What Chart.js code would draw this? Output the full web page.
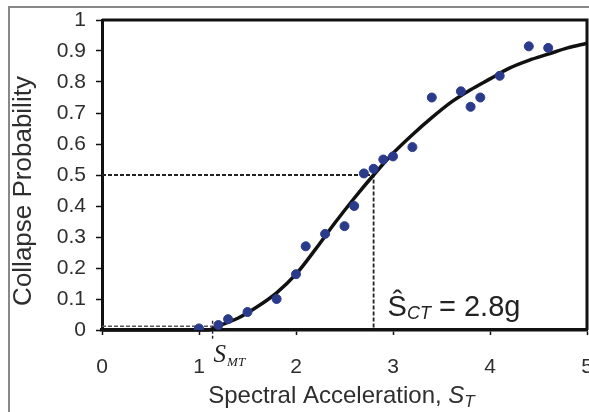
<!DOCTYPE html>
<html>
<head>
<meta charset="utf-8">
<script src="https://cdn.jsdelivr.net/npm/chart.js@4/dist/chart.umd.min.js"></script>
<style>
    html, body { margin: 0; padding: 0; background: #fff; overflow: hidden; width: 589px; height: 412px; }
    #wrap { position: relative; width: 610px; height: 412px; }
</style>
</head>
<body>
<div id="wrap"><canvas id="fragility_chart"></canvas></div>
<script>
// observed collapse data (spectral acceleration, fraction collapsed)
const recordSa = [1.0, 1.2, 1.3, 1.5, 1.8, 2.0, 2.1, 2.3, 2.5, 2.6, 2.7, 2.8, 2.9, 3.0, 3.2, 3.4, 3.7, 3.8, 3.9, 4.1, 4.4, 4.6]
const recordProb = [0.005, 0.016, 0.035, 0.058, 0.10, 0.18, 0.27, 0.31, 0.335, 0.40, 0.505, 0.52, 0.55, 0.56, 0.59, 0.75, 0.77, 0.72, 0.75, 0.82, 0.915, 0.91]

// fitted fragility curve
const curveSa = [0, 1.1, 1.2, 1.4, 1.6, 1.8, 2.0, 2.2, 2.4, 2.6, 2.8, 3.0, 3.2, 3.4, 3.6, 3.8, 4.0, 4.2, 4.4, 4.6, 4.8, 5.0]
const curveProb = [0, 0, 0.013, 0.038, 0.075, 0.12, 0.18, 0.26, 0.345, 0.425, 0.50, 0.57, 0.63, 0.685, 0.735, 0.775, 0.81, 0.845, 0.87, 0.89, 0.91, 0.925]

// reference values
const sctValue = 2.8
const smtValue = 1.14
const medianProb = 0.5
const smtProb = 0.012

const xTicks = [0, 1, 2, 3, 4, 5]
const yTicks = [0, 0.1, 0.2, 0.3, 0.4, 0.5, 0.6, 0.7, 0.8, 0.9, 1]

const sans = "'Liberation Sans', Arial, sans-serif"
const serif = "'Liberation Serif', 'Times New Roman', serif"

function pairs(xs, ys) {
    return xs.map((x, i) => ({ x: x, y: ys[i] }))
}

const overlay = {
    id: "overlay",
    beforeDatasetsDraw(chart) {
        const { ctx, chartArea: a } = chart
        ctx.save()
        ctx.strokeStyle = "#111"
        ctx.lineWidth = 3
        ctx.beginPath()
        ctx.moveTo(a.left, a.top)
        ctx.lineTo(a.right, a.top)
        ctx.lineTo(a.right, a.bottom)
        ctx.stroke()
        ctx.restore()
    },
    afterDraw(chart) {
        const { ctx, chartArea: a, scales } = chart
        const xs = scales.x
        ctx.save()
        // outer gray frame
        ctx.fillStyle = "#888"
        ctx.fillRect(8, 6, 600, 2)
        ctx.fillRect(8, 6, 2, 420)

        ctx.fillStyle = "#2e2e2e"
        // y title
        ctx.save()
        ctx.translate(24, 191)
        ctx.rotate(-Math.PI / 2)
        ctx.font = "26px " + sans
        ctx.textAlign = "center"
        ctx.textBaseline = "middle"
        ctx.fillText("Collapse Probability", 0, 0)
        ctx.restore()

        // x title
        ctx.textBaseline = "alphabetic"
        ctx.textAlign = "left"
        const main = "Spectral Acceleration, "
        ctx.font = "24px " + sans
        const wMain = ctx.measureText(main).width
        ctx.font = "italic 24px " + sans
        const wS = ctx.measureText("S").width
        ctx.font = "italic 17px " + sans
        const wT = ctx.measureText("T").width
        let tx = (a.left + a.right) / 2 - (wMain + wS + wT) / 2 - 3
        ctx.font = "24px " + sans
        ctx.fillText(main, tx, 403)
        tx += wMain
        ctx.font = "italic 24px " + sans
        ctx.fillText("S", tx, 403)
        tx += wS
        ctx.font = "italic 17px " + sans
        ctx.fillText("T", tx, 407)

        // S_CT annotation
        ctx.fillStyle = "#222"
        let ax = xs.getPixelForValue(sctValue) + 14
        ctx.font = "29px " + sans
        ctx.fillText("\u015C", ax, 316)
        ax += ctx.measureText("\u015C").width
        ctx.font = "italic 18px " + sans
        ctx.fillText("CT", ax, 319)
        ax += ctx.measureText("CT").width
        ctx.font = "29px " + sans
        ctx.fillText(" = " + sctValue + "g", ax, 316)

        // S_MT label
        let mx = xs.getPixelForValue(smtValue) + 1
        ctx.font = "italic 25px " + serif
        ctx.fillText("S", mx, 362)
        mx += ctx.measureText("S").width + 1
        ctx.font = "italic 13px " + serif
        ctx.fillText("MT", mx, 366)
        ctx.restore()
    },
}

function main() {
    new Chart(document.getElementById("fragility_chart"), {
        type: "scatter",
        data: {
            datasets: [
                {
                    label: "Collapse data",
                    data: pairs(recordSa, recordProb),
                    backgroundColor: "#2b3b8c",
                    borderColor: "#2b3b8c",
                    pointRadius: 4.5,
                    showLine: false,
                },
                {
                    label: "Fitted curve",
                    data: pairs(curveSa, curveProb),
                    showLine: true,
                    borderColor: "#111",
                    borderWidth: 3.5,
                    pointRadius: 0,
                    cubicInterpolationMode: "monotone",
                    clip: false,
                },
                {
                    label: "Median",
                    data: [{ x: 0, y: medianProb }, { x: sctValue, y: medianProb }, { x: sctValue, y: 0 }],
                    showLine: true,
                    borderColor: "#222",
                    borderWidth: 1.8,
                    borderDash: [4, 2],
                    pointRadius: 0,
                },
                {
                    label: "SMT level",
                    data: [{ x: 0, y: smtProb }, { x: smtValue, y: smtProb }],
                    showLine: true,
                    borderColor: "#555",
                    borderWidth: 1.4,
                    borderDash: [4, 2],
                    pointRadius: 0,
                },
                {
                    label: "SMT",
                    data: [{ x: smtValue, y: 0.03 }, { x: smtValue, y: -0.03 }],
                    showLine: true,
                    borderColor: "#222",
                    borderWidth: 1.4,
                    borderDash: [3, 2],
                    pointRadius: 0,
                    clip: false,
                },
            ],
        },
        options: {
            responsive: true,
            maintainAspectRatio: false,
            animation: false,
            layout: { padding: { top: 20, right: 23, left: 0, bottom: 0 } },
            scales: {
                x: {
                    type: "linear",
                    min: 0,
                    max: 5,
                    afterFit: (s) => {
                        s.height = 82
                        s.paddingLeft = 0
                        s.paddingRight = 0
                    },
                    afterBuildTicks: (s) => { s.ticks = xTicks.map((v) => ({ value: v })) },
                    grid: {
                        drawOnChartArea: false,
                        drawTicks: true,
                        tickLength: 5,
                        tickColor: "#111",
                        tickWidth: 1.5,
                    },
                    border: { display: true, color: "#111", width: 3.5 },
                    ticks: {
                        color: "#2e2e2e",
                        padding: 20,
                        font: { family: sans, size: 21 },
                        maxRotation: 0,
                    },
                },
                y: {
                    type: "linear",
                    min: 0,
                    max: 1,
                    afterFit: (s) => {
                        s.width = 102
                        s.paddingTop = 0
                        s.paddingBottom = 0
                    },
                    afterBuildTicks: (s) => { s.ticks = yTicks.map((v) => ({ value: v })) },
                    grid: {
                        drawOnChartArea: false,
                        drawTicks: true,
                        tickLength: 6,
                        tickColor: "#111",
                        tickWidth: 1.5,
                    },
                    border: { display: true, color: "#111", width: 3 },
                    ticks: {
                        color: "#2e2e2e",
                        padding: 10,
                        font: { family: sans, size: 21 },
                        callback: (v) => String(Math.round(v * 10) / 10),
                    },
                },
            },
            plugins: {
                legend: { display: false },
                tooltip: { enabled: false },
            },
        },
        plugins: [overlay],
    })
}

document.addEventListener("DOMContentLoaded", main())
</script>
</body>
</html>
